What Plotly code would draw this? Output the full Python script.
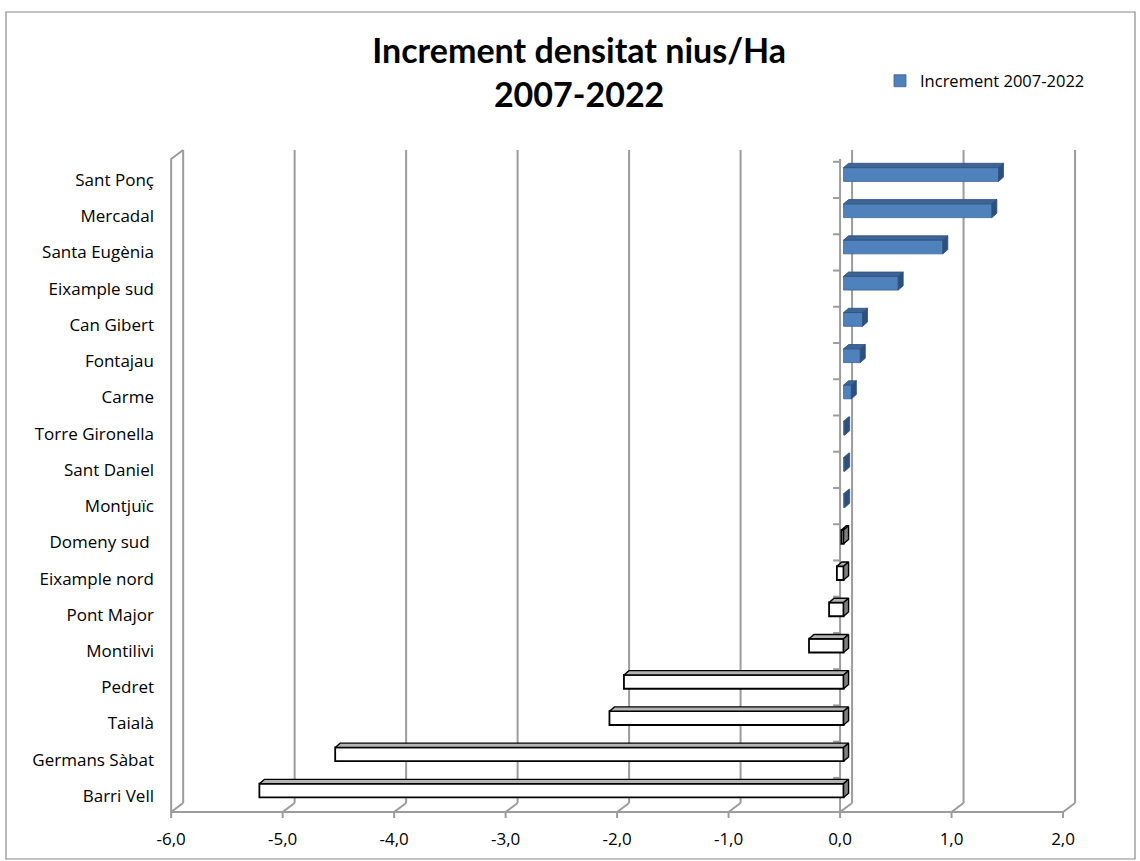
import plotly.graph_objects as go

# ---------------- data ----------------
categories = ["Sant Ponç", "Mercadal", "Santa Eugènia", "Eixample sud", "Can Gibert",
              "Fontajau", "Carme", "Torre Gironella", "Sant Daniel", "Montjuïc",
              "Domeny sud\u00a0", "Eixample nord", "Pont Major", "Montilivi", "Pedret",
              "Taialà", "Germans Sàbat", "Barri Vell"]
values = [1.39, 1.33, 0.89, 0.49, 0.17, 0.15, 0.07, 0.01, 0.01, 0.01,
          -0.02, -0.06, -0.13, -0.31, -1.97, -2.10, -4.56, -5.24]
x_ticks = [-6, -5, -4, -3, -2, -1, 0, 1, 2]
x_tick_labels = ["-6,0", "-5,0", "-4,0", "-3,0", "-2,0", "-1,0", "0,0", "1,0", "2,0"]
series_name = "Increment 2007-2022"
title_text = "Increment densitat nius/Ha<br>2007-2022"

# ---------------- geometry / style ----------------
n = len(categories)
ypos = [n - 1 - k for k in range(n)]

PX_X = 111.5          # pixels per x unit
PX_Y = 36.24          # pixels per category
WALL_DX = 12 / PX_X   # pseudo-3D depth of the walls
WALL_DY = 9 / PX_Y
FLOOR = -0.4415       # front edge of the floor (category units)
TOP = 17.825          # top of back wall
BAR_SHIFT = 3.5 / PX_X
BAR_W = 0.38
BAR_OFF = -0.04
BAR_DX = 5 / PX_X
BAR_DY = 4.3 / PX_Y
TICK_LEN = 6 / PX_Y
CAT_TICK = 7 / PX_X

GRID = "#9c9c9c"
FONT = "Open Sans"
BLUE = "#4f81bd"
BLUE_EDGE = "#3b6594"
BLUE_TOP = "#3c6494"
BLUE_SIDE = "#2d4f7c"

fig = go.Figure()

# back wall gridlines
gx, gy = [], []
for v in x_ticks:
    gx += [v + WALL_DX, v + WALL_DX, None]
    gy += [FLOOR + WALL_DY, TOP, None]
# floor: front edge, slants, ticks under the floor
gx += [x_ticks[0], x_ticks[-1], None]
gy += [FLOOR, FLOOR, None]
for v in x_ticks:
    gx += [v, v + WALL_DX, None, v, v, None]
    gy += [FLOOR, FLOOR + WALL_DY, None, FLOOR, FLOOR - TICK_LEN, None]
# left wall front edge and top slant
gx += [x_ticks[0], x_ticks[0], x_ticks[0] + WALL_DX, None]
gy += [FLOOR, TOP - WALL_DY, TOP, None]
# category axis at zero with its ticks
gx += [0, 0, None]
gy += [FLOOR, TOP - WALL_DY, None]
for y in ypos:
    gx += [-CAT_TICK, 0, None]
    gy += [y + 0.5, y + 0.5, None]
fig.add_trace(go.Scatter(x=gx, y=gy, mode="lines", line=dict(color=GRID, width=2),
                         hoverinfo="skip", showlegend=False, xaxis="x", yaxis="y"))

# bars (front faces)
fill_cols = [BLUE if v >= 0 else "#ffffff" for v in values]
line_cols = [BLUE_EDGE if v >= 0 else "#000000" for v in values]
line_w = [0.8 if v >= 0 else 1.8 for v in values]
fig.add_trace(go.Bar(x=values, y=ypos, orientation="h", width=BAR_W, offset=BAR_OFF,
                     marker=dict(color=fill_cols, line=dict(color=line_cols, width=line_w)),
                     name=series_name, xaxis="x2", yaxis="y", showlegend=True))

# pseudo-3D top and side faces
def faces(sign):
    tx, ty, sx, sy = [], [], [], []
    for v, y in zip(values, ypos):
        if (v >= 0) != (sign > 0):
            continue
        x0, x1 = min(0, v), max(0, v)
        yb = y + BAR_OFF
        yt = yb + BAR_W
        tx += [x0, x1, x1 + BAR_DX, x0 + BAR_DX, x0, None]
        ty += [yt, yt, yt + BAR_DY, yt + BAR_DY, yt, None]
        sx += [x1, x1, x1 + BAR_DX, x1 + BAR_DX, x1, None]
        sy += [yb, yt, yt + BAR_DY, yb + BAR_DY, yb, None]
    return tx, ty, sx, sy

for sign, top_c, side_c, edge_c, ew in [(1, BLUE_TOP, BLUE_SIDE, BLUE_SIDE, 0.8),
                                        (-1, "#b4b4b4", "#7f7f7f", "#000000", 1.4)]:
    tx, ty, sx, sy = faces(sign)
    fig.add_trace(go.Scatter(x=tx, y=ty, mode="lines", fill="toself", fillcolor=top_c,
                             line=dict(color=edge_c, width=ew), hoverinfo="skip",
                             showlegend=False, xaxis="x2", yaxis="y"))
    fig.add_trace(go.Scatter(x=sx, y=sy, mode="lines", fill="toself", fillcolor=side_c,
                             line=dict(color=edge_c, width=ew), hoverinfo="skip",
                             showlegend=False, xaxis="x2", yaxis="y"))

x_range = [-6.1, 2.17]
fig.update_layout(
    width=1140, height=861,
    margin=dict(l=160, r=58, t=148, b=41, autoexpand=False),
    paper_bgcolor="white", plot_bgcolor="white",
    font=dict(family=FONT, size=17, color="#000000"),
    title=dict(text=title_text, x=0.508, xref="container", xanchor="center",
               y=1 - 63 / 861, yref="container", yanchor="top",
               font=dict(family="Lato", size=34, color="#000000", weight="bold")),
    xaxis=dict(range=x_range, tickvals=x_ticks, ticktext=x_tick_labels, showgrid=False,
               zeroline=False, showline=False, ticks="", ticklabelstandoff=7,
               tickfont=dict(size=17)),
    xaxis2=dict(range=[x_range[0] - BAR_SHIFT, x_range[1] - BAR_SHIFT], overlaying="x",
                visible=False, showgrid=False, zeroline=False),
    yaxis=dict(range=[-0.662, 17.881], tickvals=ypos, ticktext=categories, showgrid=False,
               zeroline=False, showline=False, ticks="", ticklabelstandoff=5,
               tickfont=dict(size=17)),
    legend=dict(x=880 / 1140, xref="container", xanchor="left",
                y=1 - 81 / 861, yref="container", yanchor="middle",
                font=dict(size=16.5), bgcolor="rgba(0,0,0,0)"),
    barmode="overlay",
    shapes=[dict(type="rect", xref="paper", yref="paper",
                 x0=(6 - 160) / 922, x1=(1135 - 160) / 922,
                 y0=(820 - 859) / 672, y1=(820 - 12) / 672,
                 line=dict(color="#8a8a8a", width=1.2), fillcolor="rgba(0,0,0,0)",
                 layer="below")],
)

fig.write_html("out.html", config={"displayModeBar": False},
               post_script="document.body.style.margin='0';document.body.style.overflow='hidden';")
